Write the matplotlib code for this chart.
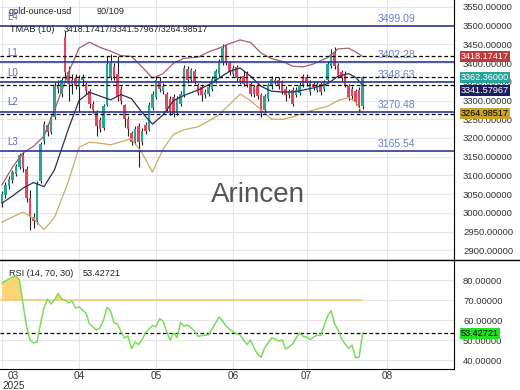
import matplotlib
matplotlib.use("Agg")
from matplotlib import pyplot as plt
from matplotlib import transforms
from matplotlib.lines import Line2D
import numpy as np
import pandas as pd

# daily candles (open, high, low, close)
opens = [3025, 3048, 3072, 3088, 3105, 3122, 3155, 3118, 3040, 2990,
         2978, 3085, 3192, 3235, 3215, 3255, 3338, 3318, 3470, 3375,
         3345, 3360, 3335, 3355, 3345, 3325, 3292, 3270, 3248, 3228,
         3288, 3362, 3390, 3372, 3330, 3288, 3250, 3212, 3190, 3232,
         3190, 3235, 3222, 3280, 3310, 3352, 3325, 3318, 3305, 3310,
         3268, 3290, 3315, 3385, 3355, 3378, 3342, 3335, 3315, 3318,
         3330, 3352, 3370, 3400, 3445, 3400, 3372, 3390, 3358, 3365,
         3372, 3345, 3335, 3338, 3315, 3275, 3305, 3338, 3355, 3356,
         3348, 3330, 3316, 3328, 3315, 3320, 3365, 3362, 3322, 3345,
         3328, 3345, 3330, 3355, 3392, 3428, 3395, 3375, 3372, 3340,
         3332, 3325, 3328, 3285]
highs = [3058, 3082, 3098, 3115, 3130, 3160, 3162, 3125, 3060, 3000,
         3085, 3190, 3245, 3240, 3262, 3350, 3355, 3362, 3485, 3392,
         3370, 3370, 3368, 3370, 3350, 3330, 3298, 3275, 3255, 3292,
         3420, 3425, 3400, 3420, 3338, 3292, 3258, 3220, 3232, 3240,
         3228, 3242, 3295, 3325, 3365, 3362, 3348, 3322, 3312, 3318,
         3312, 3325, 3395, 3392, 3388, 3385, 3348, 3342, 3330, 3342,
         3365, 3385, 3410, 3450, 3452, 3405, 3395, 3396, 3365, 3378,
         3378, 3350, 3342, 3345, 3320, 3318, 3348, 3365, 3362, 3362,
         3355, 3338, 3332, 3335, 3335, 3350, 3372, 3370, 3355, 3352,
         3352, 3350, 3356, 3405, 3438, 3442, 3400, 3382, 3378, 3345,
         3338, 3332, 3335, 3366]
lows = [3015, 3040, 3065, 3080, 3098, 3118, 3110, 3030, 2955, 2960,
        2970, 3080, 3185, 3205, 3210, 3250, 3320, 3310, 3350, 3300,
        3318, 3330, 3270, 3340, 3318, 3280, 3268, 3205, 3215, 3222,
        3285, 3355, 3355, 3300, 3290, 3230, 3205, 3180, 3185, 3122,
        3180, 3210, 3218, 3275, 3305, 3322, 3318, 3270, 3262, 3255,
        3262, 3285, 3310, 3348, 3350, 3345, 3315, 3300, 3308, 3312,
        3325, 3348, 3365, 3395, 3395, 3368, 3365, 3352, 3345, 3340,
        3335, 3312, 3310, 3305, 3256, 3265, 3300, 3332, 3345, 3330,
        3318, 3300, 3308, 3285, 3310, 3315, 3335, 3340, 3315, 3328,
        3322, 3315, 3325, 3350, 3388, 3385, 3360, 3352, 3335, 3302,
        3305, 3288, 3270, 3278]
closes = [3050, 3075, 3090, 3108, 3125, 3155, 3120, 3040, 2990, 2978,
          3078, 3185, 3238, 3215, 3255, 3340, 3330, 3356, 3375, 3345,
          3355, 3338, 3358, 3362, 3325, 3290, 3275, 3232, 3225, 3285,
          3398, 3400, 3365, 3310, 3300, 3250, 3225, 3188, 3225, 3188,
          3220, 3218, 3288, 3318, 3355, 3330, 3340, 3278, 3270, 3265,
          3305, 3318, 3388, 3355, 3382, 3352, 3320, 3315, 3322, 3335,
          3358, 3378, 3402, 3440, 3400, 3375, 3388, 3360, 3352, 3345,
          3340, 3318, 3318, 3312, 3268, 3312, 3342, 3358, 3350, 3338,
          3325, 3315, 3325, 3292, 3328, 3342, 3342, 3348, 3348, 3335,
          3345, 3322, 3350, 3398, 3425, 3392, 3368, 3360, 3340, 3310,
          3312, 3295, 3285, 3362.36]

# TMA bands read at selected candle positions
band_idx = [0, 3, 6, 9, 12, 15, 19, 22, 25, 28, 31, 34, 37, 40, 43, 46, 49, 52,
            56, 59, 62, 65, 68, 71, 74, 77, 80, 83, 86, 89, 93, 96, 99, 101, 103]
tma_upper = [3075, 3122, 3160, 3178, 3205, 3275, 3375, 3440, 3456, 3442, 3432,
             3420, 3418, 3390, 3360, 3372, 3400, 3413, 3416, 3430, 3440, 3452,
             3462, 3455, 3427, 3412, 3405, 3392, 3390, 3398, 3415, 3438, 3440,
             3430, 3418.17417]
tma_mid = [3026, 3045, 3066, 3081, 3070, 3115, 3225, 3300, 3322, 3312, 3302,
           3316, 3305, 3268, 3237, 3262, 3300, 3314, 3328, 3342, 3360, 3378,
           3387, 3365, 3338, 3325, 3323, 3323, 3328, 3334, 3345, 3365, 3372,
           3362, 3341.57967]
tma_lower = [2975, 2989, 3002, 2985, 2955, 2988, 3085, 3175, 3189, 3186, 3182,
             3190, 3198, 3160, 3109, 3170, 3210, 3222, 3230, 3245, 3262, 3290,
             3317, 3300, 3275, 3250, 3250, 3256, 3266, 3275, 3285, 3300, 3308,
             3296, 3264.98517]

rsi = [78.5, 79.5, 80.5, 81.5, 82, 80, 68, 57, 50, 48.5,
       49, 58, 66, 70.5, 68, 70, 73.3, 70.5, 70, 68.5,
       69.5, 66, 66.5, 65, 63.5, 58, 56.5, 55, 56, 60,
       66.3, 64.5, 58.5, 58, 54, 51, 52, 45.6, 49, 47.7,
       50, 53.7, 55.5, 57.3, 56.7, 60.6, 59.5, 54.5, 50, 53.5,
       51.2, 58.7, 57, 57.5, 56, 54.5, 51.8, 52.2, 52.4, 52.6,
       55.5, 58.5, 61.5, 59.5, 57, 55.5, 54, 53.2, 52.5, 50,
       47.8, 50, 46, 43, 41.3, 46, 48.5, 51, 50.5, 49.5,
       50, 45.5, 46.5, 48, 51, 53.5, 51.8, 51.5, 50.3, 51.5,
       52.5, 52.2, 57, 62, 64.7, 58, 55, 50.5, 48, 45.8,
       47.5, 41, 41.5, 53.42721]

levels = [3499.09, 3402.28, 3348.63, 3270.48, 3165.54]
level_names = ["L4", "L1", "L0", "L2", "L3"]
tma_last = [3418.17417, 3341.57967, 3264.98517]
last_price = 3362.36
rsi_last = 53.42721

dates = pd.bdate_range("2025-02-28", periods=len(closes))


def main():
    plt.rcParams["font.family"] = ["Liberation Sans", "DejaVu Sans"]
    fig = plt.figure(figsize=(5.2, 3.9), dpi=100)
    ax = fig.add_axes([0, 130 / 390, 454 / 520, 260 / 390])
    ax2 = fig.add_axes([0, 21 / 390, 454 / 520, 109 / 390])

    idx = np.arange(len(closes))
    o = np.array(opens, float)
    c = np.array(closes, float)
    up = c >= o

    x_lo, x_hi = -0.57, 129.1

    for a in (ax, ax2):
        a.grid(True, color="#e6e6e6", lw=0.8)
        a.set_axisbelow(True)
        a.set_xlim(x_lo, x_hi)
        for s in ("left", "top"):
            a.spines[s].set_visible(False)
        a.spines["right"].set_color("black")
        a.spines["bottom"].set_color("black")
        a.yaxis.tick_right()
        a.tick_params(axis="y", length=0, pad=6.5, labelsize=6.8, labelcolor="#333333")
        a.yaxis.set_major_formatter(matplotlib.ticker.FormatStrFormatter("%.5f"))

    # candles
    ax.vlines(idx, lows, highs, color="#222222", lw=0.8, zorder=2)
    ax.bar(idx[up], c[up] - o[up], bottom=o[up], width=0.7, color="#26a69a", zorder=3)
    ax.bar(idx[~up], c[~up] - o[~up], bottom=o[~up], width=0.7, color="#e8445a", zorder=3)

    # TMA bands
    ax.plot(band_idx, tma_upper, color="#a4606e", lw=0.9, zorder=4)
    ax.plot(band_idx, tma_mid, color="#2d2d5a", lw=0.9, zorder=4)
    ax.plot(band_idx, tma_lower, color="#c9ac6a", lw=0.9, zorder=4)

    # levels and dashed markers
    for lv in levels:
        ax.axhline(lv, color="#2b3a8f", lw=1.2, zorder=5)
    for lv in tma_last + [last_price]:
        ax.axhline(lv, color="black", lw=0.9, ls=(0, (3, 2)), zorder=5)

    blend = transforms.blended_transform_factory(ax.transAxes, ax.transData)
    for name, lv in zip(level_names, levels):
        ax.annotate(name, xy=(0.015, lv), xycoords=blend, xytext=(0, 3),
                    textcoords="offset points", va="bottom", ha="left",
                    fontsize=7, color="#5c6bc0", zorder=6)
        ax.annotate("%.2f" % lv, xy=(0.874, lv), xycoords=blend, xytext=(0, 1.5),
                    textcoords="offset points", va="bottom", ha="center",
                    fontsize=7.5, color="#6b80c8", zorder=6)

    ax.set_ylim(2874, 3568.7)
    ax.set_yticks(np.arange(2900, 3551, 50))

    # right-side value boxes (navy one is nudged down so it doesn't cover the teal one)
    boxes = [(tma_last[0], "#c0393b", "white", 0), (last_price, "#26a69a", "white", 0),
             (tma_last[1], "#1c1f5e", "white", -4.2), (tma_last[2], "#c9a227", "black", 0)]
    for val, bg, fg, dy in boxes:
        ax.annotate("%.5f" % val, xy=(1, val), xycoords=blend, xytext=(5, dy),
                    textcoords="offset points", va="center", ha="left", fontsize=6.6,
                    color=fg, annotation_clip=False,
                    bbox=dict(boxstyle="square,pad=0.1", fc=bg, ec="none"))

    # header texts
    ax.text(9 / 454, 1 - 12 / 260, "gold-ounce-usd", transform=ax.transAxes,
            fontsize=6.6, va="center", ha="left", color="#222222", zorder=7)
    ax.text(97 / 454, 1 - 12 / 260, "90/109", transform=ax.transAxes,
            fontsize=6.6, va="center", ha="left", color="#222222", zorder=7)
    ax.text(10 / 454, 1 - 29 / 260, "TMAB (10)", transform=ax.transAxes,
            fontsize=6.6, va="center", ha="left", color="#222222", zorder=7)
    ax.text(64 / 454, 1 - 29 / 260, "%.5f/%.5f/%.5f" % tuple(tma_last),
            transform=ax.transAxes, fontsize=6.3, va="center", ha="left",
            color="#222222", zorder=7)
    ax.text(258 / 454, 65 / 260, "Arincen", transform=ax.transAxes,
            fontsize=20, va="center", ha="center", color="#555555", zorder=7)

    ax.set_xticks([])
    ax.tick_params(axis="x", length=0)

    # RSI panel
    ax2.axhline(rsi_last, color="black", lw=0.9, ls=(0, (3, 2)), zorder=3)
    r = np.array(rsi)
    ax2.fill_between(idx, r, 70, where=r > 70, interpolate=True,
                     color="#fbd475", lw=0, zorder=2)
    ax2.hlines(70, x_lo, idx[-1], color="#f5c878", lw=1.2, zorder=2)
    ax2.plot(idx, r, color="#7bdc5c", lw=1.1, zorder=4)
    ax2.set_ylim(35.5, 90)
    ax2.set_yticks([40, 50, 60, 70, 80])
    ax2.text(9 / 454, 1 - 13 / 109, "RSI (14, 70, 30)", transform=ax2.transAxes,
             fontsize=6.6, va="center", ha="left", color="#222222")
    ax2.text(83 / 454, 1 - 13 / 109, "%.5f" % rsi_last, transform=ax2.transAxes,
             fontsize=6.6, va="center", ha="left", color="#222222")
    blend2 = transforms.blended_transform_factory(ax2.transAxes, ax2.transData)
    ax2.annotate("%.5f" % rsi_last, xy=(1, rsi_last), xycoords=blend2, xytext=(5, 0),
                 textcoords="offset points", va="center", ha="left", fontsize=6.6,
                 color="black", annotation_clip=False,
                 bbox=dict(boxstyle="square,pad=0.1", fc="#22e022", ec="none"))

    # month ticks: first candle, then first trading day of each later month
    month_start = [i for i in range(1, len(dates)) if dates[i].month != dates[i - 1].month]
    tick_pos = [0] + [i for i in month_start if dates[i].month > 3]
    tick_lab = ["03\n2025"] + ["%02d" % dates[p].month for p in tick_pos[1:]]
    next_month = pd.bdate_range(dates[-1], "2025-08-01")
    tick_pos.append(len(dates) - 1 + len(next_month) - 1)
    tick_lab.append("08")
    ax2.set_xticks(tick_pos)
    ax2.set_xticklabels(tick_lab, fontsize=7.2, color="#333333", linespacing=0.95)
    ax2.get_xticklabels()[0].set_ha("left")
    ax2.get_xticklabels()[0].set_multialignment("center")
    ax2.tick_params(axis="x", length=0, pad=1.5)
    for p in tick_pos:
        ax.axvline(p, color="#e6e6e6", lw=0.8, zorder=0)

    # separator line across the figure
    fig.add_artist(Line2D([0, 1], [130 / 390, 130 / 390], color="black", lw=1))

    fig.savefig("out.png", dpi=100)


if __name__ == "__main__":
    main()
